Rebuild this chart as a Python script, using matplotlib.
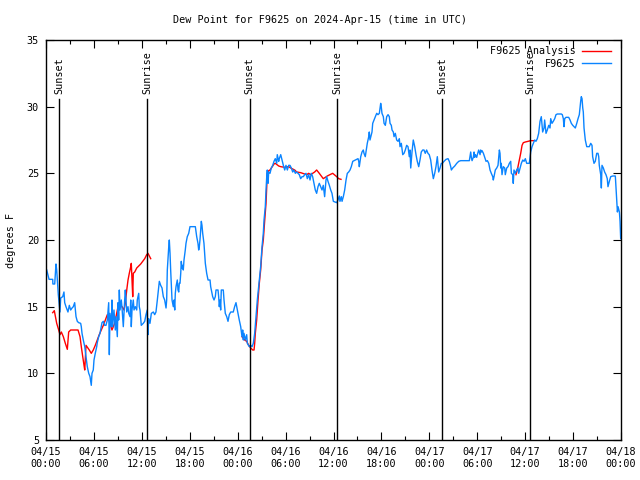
import numpy as np
import matplotlib
matplotlib.use("Agg")
import matplotlib.pyplot as plt
from matplotlib.lines import Line2D
from matplotlib.ticker import MultipleLocator, FixedLocator

# ---- data (hours since 2024-04-15 00:00 UTC) ----
obs_hours = [0.09, 0.38, 0.84, 0.86, 1.09, 1.25, 1.34, 1.54, 1.75, 1.84, 2.09, 2.25, 2.34, 2.50, 2.75, 2.92,
             3.09, 3.26, 3.42, 3.59, 3.76, 3.92, 4.09, 4.34, 4.42, 4.51, 4.67, 4.85, 5.01, 5.17, 5.35, 5.51,
             5.67, 5.76, 5.92, 6.01, 6.17, 6.35, 6.42, 6.60, 6.76, 6.92, 7.01, 7.18, 7.35, 7.51, 7.68, 7.85,
             7.93, 8.01, 8.18, 8.26, 8.35, 8.51, 8.68, 8.77, 8.93, 9.02, 9.10, 9.18, 9.27, 9.43, 9.52, 9.68,
             9.85, 9.93, 10.02, 10.11, 10.27, 10.36, 10.52, 10.61, 10.68, 10.77, 10.93, 11.02, 11.18, 11.36,
             11.43, 11.61, 11.68, 11.77, 11.93, 12.18, 12.36, 12.52, 12.68, 12.77, 12.86, 13.02, 13.19, 13.44,
             13.61, 13.77, 13.94, 14.11, 14.19, 14.36, 14.53, 14.69, 14.86, 15.03, 15.11, 15.19, 15.36, 15.44,
             15.53, 15.61, 15.78, 15.94, 16.03, 16.12, 16.19, 16.28, 16.44, 16.53, 16.62, 16.69, 16.78, 16.87,
             16.94, 17.03, 17.12, 17.19, 17.28, 17.44, 17.53, 17.69, 17.87, 18.03, 18.70, 18.87, 19.03, 19.12,
             19.20, 19.28, 19.37, 19.45, 19.53, 19.62, 19.78, 19.87, 19.95, 20.12, 20.29, 20.54, 20.62, 20.70,
             20.87, 21.04, 21.20, 21.29, 21.54, 21.62, 21.70, 21.79, 21.87, 21.95, 22.20, 22.29, 22.37, 22.45,
             22.63, 22.79, 22.95, 23.13, 23.45, 23.62, 23.79, 23.88, 24.04, 24.20, 24.38, 24.54, 24.63, 24.71,
             24.79, 24.96, 25.13, 25.21, 25.46, 25.64, 25.80, 25.96, 26.13, 26.30, 26.46, 26.63, 26.71, 26.88,
             27.05, 27.21, 27.30, 27.46, 27.55, 27.64, 27.71, 27.80, 27.89, 28.05, 28.21, 28.39, 28.55, 28.71,
             28.89, 28.96, 29.14, 29.21, 29.39, 29.55, 29.72, 29.89, 30.05, 30.22, 30.39, 30.55, 30.72, 30.89,
             31.05, 31.22, 31.39, 31.56, 31.72, 31.89, 32.06, 32.22, 32.39, 32.56, 32.72, 32.89, 33.06, 33.22,
             33.39, 33.56, 33.72, 33.89, 34.06, 34.22, 34.39, 34.56, 34.72, 34.89, 35.06, 35.15, 35.31, 35.48,
             35.65, 35.81, 35.98, 36.40, 36.56, 36.73, 36.81, 36.98, 37.07, 37.23, 37.40, 37.57, 37.73, 37.90,
             38.07, 38.23, 38.41, 38.73, 39.07, 39.16, 39.23, 39.41, 39.57, 39.73, 39.82, 39.98, 40.07, 40.23,
             40.41, 40.48, 40.57, 40.82, 40.91, 41.07, 41.24, 41.41, 41.57, 41.74, 41.91, 41.98, 42.07, 42.24,
             42.33, 42.49, 42.66, 42.83, 42.99, 43.08, 43.24, 43.33, 43.49, 43.58, 43.74, 43.91, 44.08, 44.24,
             44.33, 44.49, 44.67, 44.83, 44.99, 45.16, 45.33, 45.49, 45.58, 45.67, 45.83, 45.99, 46.17, 46.33,
             46.49, 46.67, 46.83, 46.99, 47.17, 47.33, 47.49, 47.66, 47.83, 47.99, 48.17, 48.33, 48.50, 48.67,
             48.83, 49.00, 49.17, 49.34, 49.50, 49.63, 49.84, 50.09, 50.34, 50.50, 50.68, 50.76, 50.93, 51.18,
             51.43, 51.68, 51.93, 53.01, 53.18, 53.26, 53.35, 53.51, 53.60, 53.68, 53.76, 53.93, 54.01, 54.18,
             54.35, 54.43, 54.52, 54.60, 54.77, 54.94, 55.10, 55.27, 55.44, 55.60, 55.76, 55.94, 56.01, 56.10,
             56.26, 56.44, 56.60, 56.69, 56.77, 56.85, 56.94, 57.01, 57.10, 57.26, 57.44, 57.51, 57.69, 57.85,
             58.02, 58.19, 58.27, 58.44, 58.51, 58.60, 58.77, 58.94, 59.10, 59.19, 59.36, 59.52, 59.70, 59.86,
             60.02, 60.19, 60.52, 60.69, 60.86, 61.02, 61.19, 61.35, 61.52, 61.69, 61.86, 62.02, 62.19, 62.36,
             62.44, 62.61, 62.77, 62.95, 63.11, 63.20, 63.36, 63.52, 63.70, 63.86, 64.03, 64.53, 64.65, 64.78,
             64.86, 64.95, 65.11, 65.45, 65.62, 65.78, 65.96, 66.12, 66.28, 66.46, 66.62, 66.78, 66.95, 67.03,
             67.12, 67.21, 67.28, 67.37, 67.53, 67.71, 68.03, 68.21, 68.37, 68.45, 68.62, 68.78, 68.96, 69.12,
             69.21, 69.28, 69.46, 69.54, 69.62, 69.79, 69.95, 70.12, 70.28, 70.37, 70.54, 70.71, 70.96, 71.29,
             71.47, 71.55, 71.63, 71.80, 71.88, 71.96]
obs_values = [17.75, 17.05, 17.05, 16.7, 16.7, 18.2, 17.75, 15.9, 14.6, 15.65, 15.75, 16.1, 15.3, 15.0, 14.6, 15.1,
              14.75, 14.9, 15.0, 15.3, 14.25, 13.9, 13.8, 13.75, 13.5, 13.0, 12.5, 12.0, 11.25, 10.5, 10.0, 9.75,
              9.1, 10.0, 10.25, 11.0, 11.5, 12.0, 12.3, 12.75, 13.0, 13.5, 13.8, 13.9, 13.6, 13.6, 14.0, 15.3,
              11.4, 14.5, 13.5, 15.5, 13.5, 14.75, 13.25, 14.25, 12.75, 15.3, 14.0, 16.25, 14.75, 15.5, 14.9, 13.5,
              15.5, 16.25, 15.5, 14.6, 15.0, 14.5, 14.25, 15.5, 13.5, 14.75, 15.5, 14.75, 15.0, 14.75,
              15.5, 16.0, 15.0, 14.75, 13.6, 13.75, 13.9, 14.4, 14.75, 12.9, 14.1, 13.75, 14.5, 14.6,
              14.4, 14.6, 15.5, 16.5, 16.9, 16.6, 16.4, 15.75, 15.5, 14.9, 15.5, 17.75, 19.4, 20.0,
              19.0, 17.75, 15.5, 15.0, 15.5, 14.75, 16.0, 16.5, 17.0, 16.25, 16.1, 16.75, 16.75, 17.5,
              18.4, 17.9, 18.1, 17.75, 18.5, 19.25, 19.75, 20.25, 20.5, 21.0, 21.0, 20.25, 19.75, 19.25,
              19.5, 20.0, 20.75, 21.4, 21.1, 20.5, 19.75, 19.0, 18.25, 17.5, 17.0, 17.0, 16.5, 16.25,
              15.75, 15.5, 15.75, 16.25, 16.25, 15.75, 15.0, 15.5, 14.75, 16.25, 16.25, 15.5, 15.0, 14.5,
              14.25, 13.9, 14.4, 14.6, 14.6, 15.0, 15.3, 15.0, 14.5, 14.0, 13.5, 12.75, 13.25, 12.5,
              13.0, 12.5, 12.9, 12.25, 12.0, 12.1, 12.0, 12.25, 13.0, 14.25, 15.5, 16.5, 17.0, 18.0,
              19.5, 20.5, 21.5, 22.5, 23.75, 24.75, 25.25, 24.25, 25.1, 25.0, 25.4, 25.6, 25.9, 26.1,
              25.75, 26.4, 25.9, 26.1, 26.4, 26.0, 25.6, 25.25, 25.6, 25.25, 25.6, 25.6, 25.4, 25.1,
              25.25, 25.0, 25.1, 25.0, 24.9, 24.6, 24.75, 24.75, 24.9, 25.0, 24.6, 24.9, 24.5, 25.0,
              24.75, 24.25, 23.75, 23.5, 24.0, 24.25, 24.0, 23.75, 24.1, 23.25, 24.5, 24.75, 24.4, 24.1,
              23.75, 23.5, 22.9, 22.8, 23.0, 23.3, 22.9, 23.25, 22.9, 23.25, 23.75, 24.5, 25.0, 25.1,
              25.25, 25.5, 25.9, 26.0, 26.1, 25.9, 25.5, 26.25, 26.6, 26.75, 26.5, 26.25, 26.6, 27.25,
              27.75, 28.1, 27.5, 28.1, 28.75, 29.0, 29.25, 29.5, 29.4, 29.5, 30.25, 30.0, 29.5, 29.25,
              28.75, 28.6, 29.25, 29.4, 29.25, 28.75, 28.6, 28.25, 28.1, 27.75, 28.0, 27.5, 27.4, 27.6,
              27.0, 27.25, 26.4, 26.5, 26.75, 27.1, 27.0, 26.25, 26.75, 25.4, 26.6, 27.5, 27.0, 26.4,
              25.9, 25.5, 26.0, 26.6, 26.75, 26.75, 26.5, 26.75, 26.5, 26.4, 26.0, 25.25, 24.6, 25.0,
              25.5, 26.25, 25.1, 25.4, 25.75, 25.75, 25.9, 26.05, 26.1, 25.9, 25.5, 25.25, 25.4, 25.55,
              25.75, 25.9, 25.95, 25.95, 26.6, 26.2, 25.95, 26.2, 26.6, 26.2, 26.4, 26.2, 26.4, 26.75,
              26.4, 26.75, 26.6, 26.7, 26.5, 26.2, 25.9, 25.95, 25.75, 25.25, 25.0, 24.75, 24.5, 24.75,
              25.25, 25.4, 25.6, 26.25, 26.75, 26.5, 25.4, 25.75, 24.9, 25.5, 25.4, 24.9, 25.4, 25.5,
              25.75, 25.9, 25.0, 24.9, 24.25, 25.25, 25.0, 25.25, 25.4, 25.0, 25.4, 25.75, 26.0, 25.9,
              26.1, 25.75, 25.75, 26.6, 27.0, 27.25, 27.5, 27.4, 27.6, 28.0, 28.9, 29.25, 28.1, 28.4,
              29.0, 28.0, 28.25, 28.6, 28.4, 29.1, 28.75, 28.9, 29.1, 29.4, 29.45, 29.45, 29.4, 29.1,
              28.5, 29.1, 29.2, 29.2, 29.0, 28.75, 28.6, 28.5, 28.4, 28.75, 29.1, 29.4, 30.4, 30.75,
              30.6, 29.9, 29.6, 28.4, 27.5, 27.0, 27.0, 27.25, 27.1, 26.25, 25.75, 25.9, 26.5, 26.5,
              26.25, 25.6, 24.9, 23.9, 25.6, 25.4, 25.1, 24.9, 24.6, 24.0, 24.4, 24.75, 24.8, 24.8,
              22.9, 22.1, 22.5, 22.1, 21.4, 20.1]

ana1_hours = [0.84, 1.04, 1.34, 1.59, 1.75, 1.92, 2.17, 2.42, 2.67, 2.84, 3.09, 4.01, 4.26, 4.42, 4.60, 4.76,
              4.85, 5.01, 5.42, 5.67, 5.92, 6.17, 6.42, 6.67, 6.92, 7.18, 7.43, 7.68, 8.01, 8.26, 8.43, 8.60,
              8.85, 9.10, 9.52, 9.77, 9.93, 10.11, 10.27, 10.43, 10.61, 10.68, 10.77, 10.86, 10.93, 11.11,
              11.36, 11.61, 11.86, 12.11, 12.36, 12.61, 12.77, 13.11]
ana1_values = [14.55, 14.7, 13.75, 13.25, 12.9, 13.1, 12.75, 12.25, 11.8, 13.1, 13.25, 13.25, 12.75, 12.0, 11.25, 10.6,
               10.25, 12.1, 11.75, 11.5, 11.75, 12.1, 12.5, 12.9, 13.25, 13.6, 14.0, 14.4, 13.75, 13.25, 13.5, 13.75,
               14.5, 15.25, 15.0, 14.75, 15.25, 16.25, 17.0, 17.5, 18.0, 18.25, 17.0, 15.75, 17.5, 17.6,
               17.9, 18.05, 18.2, 18.4, 18.6, 18.9, 19.0, 18.6]
ana2_hours = [24.54, 24.88, 25.13, 25.38, 25.64, 25.88, 26.05, 26.13, 26.21, 26.38, 26.55, 26.71, 26.88, 27.05,
              27.21, 27.39, 27.55, 27.64, 27.71, 27.89, 28.05, 28.39, 28.55, 28.71, 29.14, 29.39, 29.89, 30.39,
              30.64, 31.14, 31.39, 31.89, 32.14, 32.64, 32.89, 33.14, 33.64, 33.89, 34.22, 34.47, 34.72, 35.22,
              35.72, 35.90, 36.40, 36.65, 36.94]
ana2_values = [12.75, 12.5, 12.4, 12.1, 11.9, 11.75, 11.75, 12.25, 13.0, 14.0, 15.5, 16.75, 17.75, 19.25,
               20.0, 21.5, 22.75, 24.0, 25.0, 25.2, 25.25, 25.55, 25.7, 25.75, 25.55, 25.5, 25.45, 25.5,
               25.4, 25.25, 25.1, 25.05, 25.0, 24.9, 25.0, 24.9, 25.1, 25.25, 25.0, 24.8, 24.6, 24.8,
               24.95, 25.0, 24.75, 24.6, 24.55]
ana3_hours = [58.85, 58.94, 59.10, 59.27, 59.44, 59.61, 59.77, 60.02, 60.36, 60.69, 61.02]
ana3_values = [24.9, 25.1, 25.5, 26.0, 26.5, 27.1, 27.3, 27.35, 27.4, 27.45, 27.45]

sun_events = [1.63, 12.64, 25.5, 36.5, 49.6, 60.6]
sun_labels = ["Sunset", "Sunrise", "Sunset", "Sunrise", "Sunset", "Sunrise"]

tick_hours = [0, 6, 12, 18, 24, 30, 36, 42, 48, 54, 60, 66, 72]
tick_labels = ["04/15\n00:00", "04/15\n06:00", "04/15\n12:00", "04/15\n18:00", "04/16\n00:00",
               "04/16\n06:00", "04/16\n12:00", "04/16\n18:00", "04/17\n00:00", "04/17\n06:00",
               "04/17\n12:00", "04/17\n18:00", "04/18\n00:00"]

# ---- plot ----
plt.rcParams['font.family'] = ['DejaVu Sans Mono']
FS = 7.3

fig = plt.figure(figsize=(6.4, 4.8), dpi=100)
ax = fig.add_axes([46/640, 1-440/480, (621-46)/640, 400/480])

red = '#ff0000'
blue = '#0a84ff'

nan = [np.nan]
ana_h = ana1_hours + nan + ana2_hours + nan + ana3_hours
ana_v = ana1_values + nan + ana2_values + nan + ana3_values

ax.plot(ana_h, ana_v, color=red, lw=1.0, label='F9625 Analysis')
ax.plot(obs_hours, obs_values, color=blue, lw=1.0, label='F9625')

line_top = 30.57
for h, lab in zip(sun_events, sun_labels):
    ax.plot([h, h], [5, line_top], color='black', lw=1.0)
    ax.text(h, 30.95, lab, rotation=90, ha='center', va='bottom', fontsize=FS)

ax.set_xlim(0, 72)
ax.set_ylim(5, 35)
ax.xaxis.set_major_locator(FixedLocator(tick_hours))
ax.set_xticklabels(tick_labels)
ax.xaxis.set_minor_locator(MultipleLocator(3))
ax.yaxis.set_major_locator(MultipleLocator(5))
ax.tick_params(axis='both', which='major', direction='in', length=6, width=0.8,
               top=True, right=True, labelsize=FS, pad=5)
ax.tick_params(axis='x', which='minor', direction='in', length=3, width=0.8, top=True)
for s in ax.spines.values():
    s.set_linewidth(1.0)

ax.set_ylabel('degrees F', fontsize=FS, labelpad=8)
fig.text(0.5, 1-20/480, 'Dew Point for F9625 on 2024-Apr-15 (time in UTC)',
         ha='center', va='center', fontsize=FS)

handles = [Line2D([0], [0], color=red, lw=1.0), Line2D([0], [0], color=blue, lw=1.0)]
ax.legend(handles, ['F9625 Analysis', 'F9625'], loc='upper right', frameon=False,
          markerfirst=False, fontsize=FS, handlelength=2.9, handletextpad=0.6,
          labelspacing=0.25, borderaxespad=0.2, bbox_to_anchor=(0.994, 1.0))

fig.savefig('out.png', dpi=100)
